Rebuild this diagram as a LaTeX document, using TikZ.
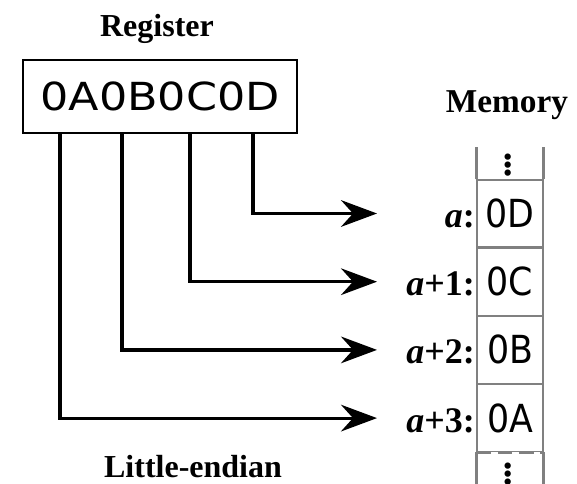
\documentclass[tikz,border=0pt]{standalone}
\usepackage{fontspec}
\setmainfont{Liberation Serif}
\newfontfamily\regfont[FakeStretch=1.15]{DejaVu Sans}
\newfontfamily\cellfont[FakeStretch=0.9]{DejaVu Sans}
\usetikzlibrary{arrows.meta}
\usetikzlibrary{positioning}
\tikzset{title/.style = {font = \fontsize{24}{24}\selectfont\bfseries, anchor = base}}
\tikzset{cell/.style = {draw = gray, line width = 0.9pt, minimum width = 49.5pt,
                        minimum height = 50.25pt, inner sep = 0,
                        font = \cellfont\fontsize{29}{29}\selectfont}}
\tikzset{addr/.style = {font = \fontsize{27}{27}\selectfont\bfseries, anchor = base east, inner sep = 1pt}}
\tikzset{conn/.style = {line width = 2.4pt, -{Stealth[length = 27pt, width = 20pt, inset = 9pt]}}}
\tikzset{stub/.style = {gray, line width = 2.4pt}}
\tikzset{dots/.style = {font = \fontsize{40}{40}\selectfont, inner sep = 0}}

\begin{document}
\begin{tikzpicture}[x = 0.75pt, y = -0.75pt]
        \useasboundingbox (0, 0) rectangle (577, 484);

        \node [title] (regtitle) at (157, 37) {Register};
        \node [draw, line width = 1.5pt, minimum width = 205.5pt, minimum height = 54.75pt,
               font = \regfont\fontsize{29}{29}\selectfont] (reg) at (160, 96.5) {0A0B0C0D};

        \node [title, font = \fontsize{25}{25}\selectfont\bfseries] (memtitle) at (507, 113) {Memory};
        \node [cell] (c0) at (510, 213.5) {0D};
        \node [cell, below = 0pt of c0] (c1) {0C};
        \node [cell, below = 0pt of c1] (c2) {0B};
        \node [cell, below = 0pt of c2] (c3) {0A};

        \node [addr] (l0) at (c0.base west) {\textit{a}:};
        \node [addr] (l1) at (c1.base west) {\textit{a}+1:};
        \node [addr] (l2) at (c2.base west) {\textit{a}+2:};
        \node [addr] (l3) at (c3.base west) {\textit{a}+3:};

        \draw [stub] (c0.north west) -- ++(0, -32);
        \draw [stub] (c0.north east) -- ++(0, -32);
        \draw [stub] (c3.south west) -- (c3.south west |- 0, 484);
        \draw [stub] (c3.south east) -- (c3.south east |- 0, 484);
        \draw [stub, dash pattern = on 11pt off 5pt] (c3.south west) -- (c3.south east);
        \node [dots] (dtop) at (508, 161) {$\vdots$};
        \node [dots] (dbot) at (508, 470) {$\vdots$};

        \draw [conn] (reg.south -| 253, 0) |- (377, 0 |- c0);
        \draw [conn] (reg.south -| 190, 0) |- (377, 0 |- c1);
        \draw [conn] (reg.south -| 122, 0) |- (377, 0 |- c2);
        \draw [conn] (reg.south -| 60, 0) |- (377, 0 |- c3);

        \node [title] (endian) at (193, 477) {Little-endian};
      \end{tikzpicture}
\end{document}
